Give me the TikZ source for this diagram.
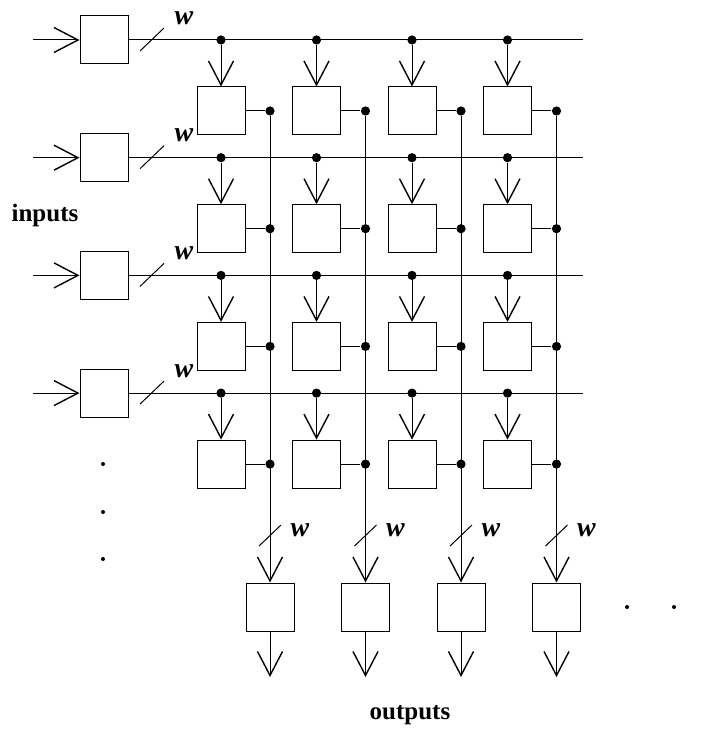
\documentclass[tikz,border=0pt]{standalone}
\usepackage{fontspec}
\setmainfont{Liberation Serif}
\usetikzlibrary{arrows.meta}

\begin{document}
\begin{tikzpicture}[x=0.5pt,y=-0.5pt,line width=0.5pt]
\tikzset{
	box/.style={draw,minimum size=24pt,inner sep=0pt},
	jdot/.style={fill,circle,minimum size=4.6pt,inner sep=0pt},
	sdot/.style={fill,circle,minimum size=2pt,inner sep=0pt},
	arr/.style={-{Straight Barb[length=12pt,width=12.5pt,line width=0.7pt]}},
	wlabel/.style={font=\bfseries\itshape\fontsize{14}{16}\selectfont,inner sep=0pt},
	tlabel/.style={font=\bfseries\fontsize{12.5}{15}\selectfont,inner sep=0pt}
}
\useasboundingbox (0,0) rectangle (719,731);

\foreach \i in {1,...,4} {
	\pgfmathsetmacro{\ry}{40+117.7*(\i-1)}
	\node[box] (in\i) at (104,\ry) {}; %input register
	\coordinate (src\i) at (33,\ry);
	\coordinate (end\i) at (583,\ry);
	\coordinate (rs\i) at (152,\ry);
	\draw[arr] (src\i) -- (in\i);
	\draw (in\i) -- (end\i);
	\draw ([shift={(-12,11)}]rs\i) -- ([shift={(12,-12)}]rs\i);
	\node[wlabel] (rw\i) at (184,\ry-22) {w};
}

\foreach \j in {1,...,4} {
	\pgfmathsetmacro{\cx}{221+95.5*(\j-1)}
	\foreach \i in {1,...,4} {
		\pgfmathsetmacro{\ry}{40+117.7*(\i-1)}
		\node[jdot] (d\i\j) at (\cx,\ry) {}; %tap on row
		\node[box] (c\i\j) at (\cx,\ry+71) {}; %cell
		\node[jdot] (o\i\j) at (\cx+49,\ry+71) {}; %tap on column
		\draw[arr] (d\i\j) -- (c\i\j);
		\draw (c\i\j) -- (o\i\j);
	}
	\node[box] (out\j) at (\cx+49,607) {}; %output register
	\coordinate (sink\j) at (\cx+49,677);
	\coordinate (cs\j) at (\cx+49,535);
	\draw[arr] (o1\j) -- (out\j);
	\draw[arr] (out\j) -- (sink\j);
	\draw ([shift={(-11,11)}]cs\j) -- ([shift={(11,-10)}]cs\j);
	\node[wlabel] (cw\j) at (\cx+79,530) {w};
}

\node[sdot] (v1) at (103,464) {};
\node[sdot] (v2) at (103,512) {};
\node[sdot] (v3) at (103,559) {};
\node[sdot] (h1) at (627,607) {};
\node[sdot] (h2) at (674,607) {};

\node[tlabel] (inputs) at (45,215) {inputs};
\node[tlabel] (outputs) at (410,715) {outputs};
\end{tikzpicture}
\end{document}
